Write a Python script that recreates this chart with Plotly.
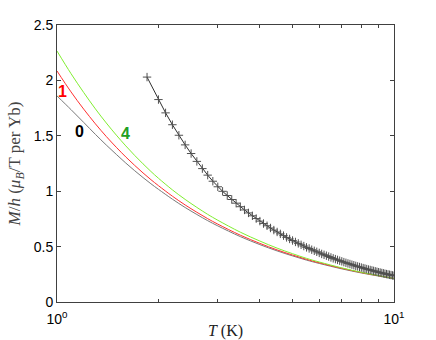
import plotly.graph_objects as go

# Measured data (crosses)
t_meas = [1.85, 2.0, 2.1, 2.2, 2.3, 2.4, 2.5, 2.6, 2.7, 2.8, 2.9, 3.0,
          3.1, 3.2, 3.3, 3.4, 3.5, 3.6, 3.7, 3.8, 3.9, 4.0,
          4.1, 4.2, 4.3, 4.4, 4.5, 4.6, 4.7, 4.8, 4.9, 5.0,
          5.1, 5.2, 5.3, 5.4, 5.5, 5.6, 5.7, 5.8, 5.9, 6.0,
          6.1, 6.2, 6.3, 6.4, 6.5, 6.6, 6.7, 6.8, 6.9, 7.0,
          7.1, 7.2, 7.3, 7.4, 7.5, 7.6, 7.7, 7.8, 7.9, 8.0,
          8.1, 8.2, 8.3, 8.4, 8.5, 8.6, 8.7, 8.8, 8.9, 9.0,
          9.1, 9.2, 9.3, 9.4, 9.5, 9.6, 9.7, 9.8, 9.9, 10.0]
m_meas = [2.03, 1.827, 1.707, 1.600, 1.505, 1.418, 1.340, 1.269, 1.204, 1.145, 1.090, 1.040,
          0.999, 0.961, 0.925, 0.892, 0.860, 0.831, 0.804, 0.778, 0.753, 0.730,
          0.708, 0.688, 0.668, 0.649, 0.632, 0.615, 0.599, 0.583, 0.569, 0.555,
          0.542, 0.529, 0.516, 0.505, 0.493, 0.483, 0.472, 0.462, 0.453, 0.443,
          0.434, 0.426, 0.418, 0.410, 0.402, 0.394, 0.387, 0.380, 0.373, 0.367,
          0.360, 0.354, 0.348, 0.343, 0.337, 0.332, 0.326, 0.321, 0.316, 0.311,
          0.306, 0.302, 0.297, 0.293, 0.289, 0.285, 0.281, 0.277, 0.273, 0.269,
          0.266, 0.262, 0.259, 0.255, 0.252, 0.249, 0.246, 0.243, 0.240, 0.237]

# Calculated curves
t_calc = [1.0, 1.1, 1.2, 1.3, 1.4, 1.5, 1.6, 1.7, 1.8, 1.9, 2.0, 2.2, 2.4, 2.6,
          2.8, 3.0, 3.5, 4.0, 4.5, 5.0, 5.5, 6.0, 7.0, 8.0, 9.0, 10.0]
m_0 = [1.860, 1.737, 1.621, 1.513, 1.417, 1.332, 1.254, 1.185, 1.123, 1.067, 1.017,
       0.928, 0.853, 0.790, 0.734, 0.687, 0.590, 0.518, 0.461, 0.416, 0.378, 0.348,
       0.299, 0.262, 0.234, 0.210]
m_1 = [2.085, 1.897, 1.741, 1.608, 1.494, 1.396, 1.309, 1.233, 1.165, 1.104, 1.050,
       0.955, 0.876, 0.810, 0.752, 0.703, 0.603, 0.529, 0.470, 0.424, 0.385, 0.354,
       0.304, 0.266, 0.237, 0.213]
m_4 = [2.265, 2.062, 1.891, 1.743, 1.616, 1.506, 1.409, 1.323, 1.247, 1.178, 1.117,
       1.012, 0.926, 0.854, 0.791, 0.738, 0.630, 0.550, 0.486, 0.436, 0.394, 0.361,
       0.308, 0.268, 0.238, 0.213]

y_ticks = [0, 0.5, 1, 1.5, 2, 2.5]

fig = go.Figure()

fig.add_trace(go.Scatter(x=t_calc, y=m_0, mode="lines", line=dict(color="#7a7a7a", width=1, shape="spline")))
fig.add_trace(go.Scatter(x=t_calc, y=m_1, mode="lines", line=dict(color="#ff3030", width=1, shape="spline")))
fig.add_trace(go.Scatter(x=t_calc, y=m_4, mode="lines", line=dict(color="#80ee30", width=1, shape="spline")))
fig.add_trace(go.Scatter(
    x=t_meas, y=m_meas, mode="lines+markers",
    line=dict(color="#303030", width=1),
    marker=dict(symbol="cross-thin", size=6, line=dict(width=1, color="#505050")),
))

# curve labels
lab_font = dict(family="Liberation Sans, Arial, sans-serif", size=16)
fig.add_annotation(x=0.015, y=1.90, xref="x", yref="y", text="<b>1</b>", showarrow=False,
                   font=dict(color="#ff0000", **lab_font))
fig.add_annotation(x=0.066, y=1.54, xref="x", yref="y", text="<b>0</b>", showarrow=False,
                   font=dict(color="#000000", **lab_font))
fig.add_annotation(x=0.202, y=1.52, xref="x", yref="y", text="<b>4</b>", showarrow=False,
                   font=dict(color="#22a022", **lab_font))

axis_common = dict(
    showline=True, linecolor="#404040", linewidth=1, mirror="ticks",
    ticks="inside", tickcolor="#404040", showgrid=False, zeroline=False,
    automargin=False,
    tickfont=dict(family="Liberation Sans, Arial, sans-serif", size=14, color="#000000"),
)

fig.update_xaxes(
    type="log", range=[0, 1],
    tickvals=[1, 10], ticktext=["10<sup>0</sup>", "10<sup>1</sup>"], ticklen=4,
    ticklabelstandoff=4,
    minor=dict(tickvals=[2, 3, 4, 5, 6, 7, 8, 9], ticks="inside", ticklen=3, tickcolor="#404040"),
    title=dict(text="<i>T</i> (K)", standoff=2,
               font=dict(family="Liberation Serif, serif", size=16, color="#222222")),
    **axis_common,
)
fig.update_yaxes(
    range=[0, 2.5], tickvals=y_ticks, ticktext=["0", "0.5", "1", "1.5", "2", "2.5"], ticklen=4,
    title=dict(text="<i>M</i>/<i>h</i> (<i>μ<sub>B</sub></i>/T per Yb)", standoff=8,
               font=dict(family="Liberation Serif, serif", size=17, color="#444444")),
    **axis_common,
)

fig.update_layout(
    width=436, height=340,
    margin=dict(l=57, r=42, t=25, b=38),
    plot_bgcolor="white", paper_bgcolor="white",
    showlegend=False,
)

# the page body has a default margin, drop it so the figure sits at the corner
fig.write_html("out.html", config={"displayModeBar": False},
               post_script="document.body.style.margin='0px';")
